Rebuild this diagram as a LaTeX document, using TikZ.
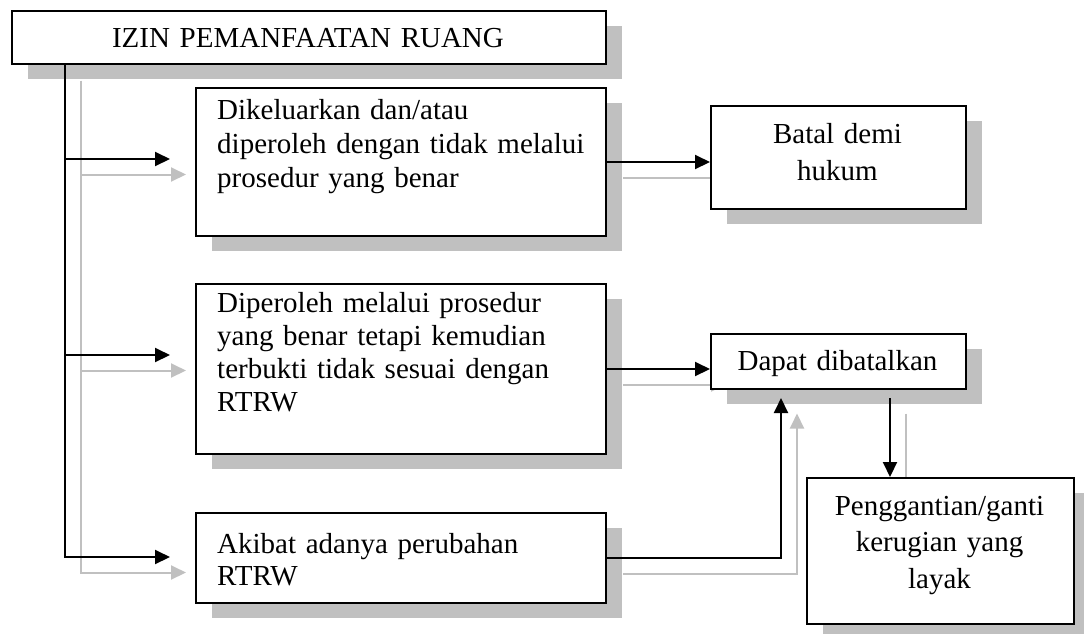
\documentclass[tikz,border=0pt]{standalone}
\usepackage{fontspec}
\setmainfont{Liberation Serif}
\usetikzlibrary{arrows.meta,shadows}
\pgfdeclarelayer{background}
\pgfsetlayers{background,main}
\definecolor{shgray}{RGB}{192,192,192}
\tikzset{
  box/.style={draw=black, line width=2pt, fill=white, inner sep=0pt, anchor=north west,
    drop shadow={shadow xshift=16pt, shadow yshift=-15pt, fill=shgray, opacity=1}},
  ltxt/.style={inner sep=0pt, anchor=base west, text width=385pt, align=left,
    font=\fontsize{29}{33.5}\selectfont},
  ctxt/.style={inner sep=0pt, anchor=base, text width=250pt, align=center,
    font=\fontsize{29}{36.5}\selectfont},
  bconn/.style={draw=black, line width=2pt, -{Triangle[length=15pt,width=14pt]}},
  gconn/.style={draw=shgray, line width=2pt, -{Triangle[length=15pt,width=14pt]},
    transform canvas={xshift=16pt,yshift=-15.5pt}},
}
\newcommand\myconns[1]{%
  \draw[#1] (top.south -| spine) |- (e3);
  \draw[#1] (spine |- e1) -- (e1);
  \draw[#1] (spine |- e2) -- (e2);
  \draw[#1] (b1.east) -- (b1.east -| batal.west);
  \draw[#1] (b2.east) -- (b2.east -| dapat.west);
  \draw[#1] (b3.east) -| (d3);
  \draw[#1] (dp) -- (dp |- peng.north);
}
\begin{document}
\begin{tikzpicture}[x=1pt,y=-1pt]
  \useasboundingbox (0,0) rectangle (1084,633);
  \clip (0,0) rectangle (1084,633);
  % boxes
  \node[box, minimum width=594pt, minimum height=53pt] (top) at (11,10) {};
  \node[box, minimum width=410pt, minimum height=148pt] (b1) at (195,87) {};
  \node[box, minimum width=410pt, minimum height=170pt] (b2) at (195,283) {};
  \node[box, minimum width=410pt, minimum height=90pt] (b3) at (195,512) {};
  \node[box, minimum width=255pt, minimum height=103pt] (batal) at (710,105) {};
  \node[box, minimum width=255pt, minimum height=55pt] (dapat) at (710,333) {};
  \node[box, minimum width=267pt, minimum height=146pt] (peng) at (806,477) {};
  % texts
  \node[ctxt, text width=590pt] (ttop) at (308,47) {IZIN PEMANFAATAN RUANG};
  \node[ltxt, font=\fontsize{29}{34}\selectfont] (t1) at (217,119)
    {Dikeluarkan dan/atau\\diperoleh dengan tidak melalui\\prosedur yang benar};
  \node[ltxt, font=\fontsize{29}{33}\selectfont] (t2) at (217,312)
    {Diperoleh melalui prosedur\\yang benar tetapi kemudian\\terbukti tidak sesuai dengan\\RTRW};
  \node[ltxt, font=\fontsize{29}{32}\selectfont] (t3) at (217,553)
    {Akibat adanya perubahan\\RTRW};
  \node[ctxt, font=\fontsize{29}{37}\selectfont] (tbatal) at (837.5,143) {Batal demi\\hukum};
  \node[ctxt] (tdapat) at (837.5,370) {Dapat dibatalkan};
  \node[ctxt] (tpeng) at (939.5,515) {Penggantian/ganti\\kerugian yang\\layak};
  % connector helper points
  \coordinate (spine) at (65,0);
  \coordinate (e1) at (170,159);
  \coordinate (e2) at (170,355);
  \coordinate (e3) at (170,557);
  \coordinate (d3) at (781,398);
  \coordinate (dp) at (890,398);
  % connectors
  \begin{pgfonlayer}{background}
    \myconns{gconn}
  \end{pgfonlayer}
  \myconns{bconn}
\end{tikzpicture}
\end{document}
